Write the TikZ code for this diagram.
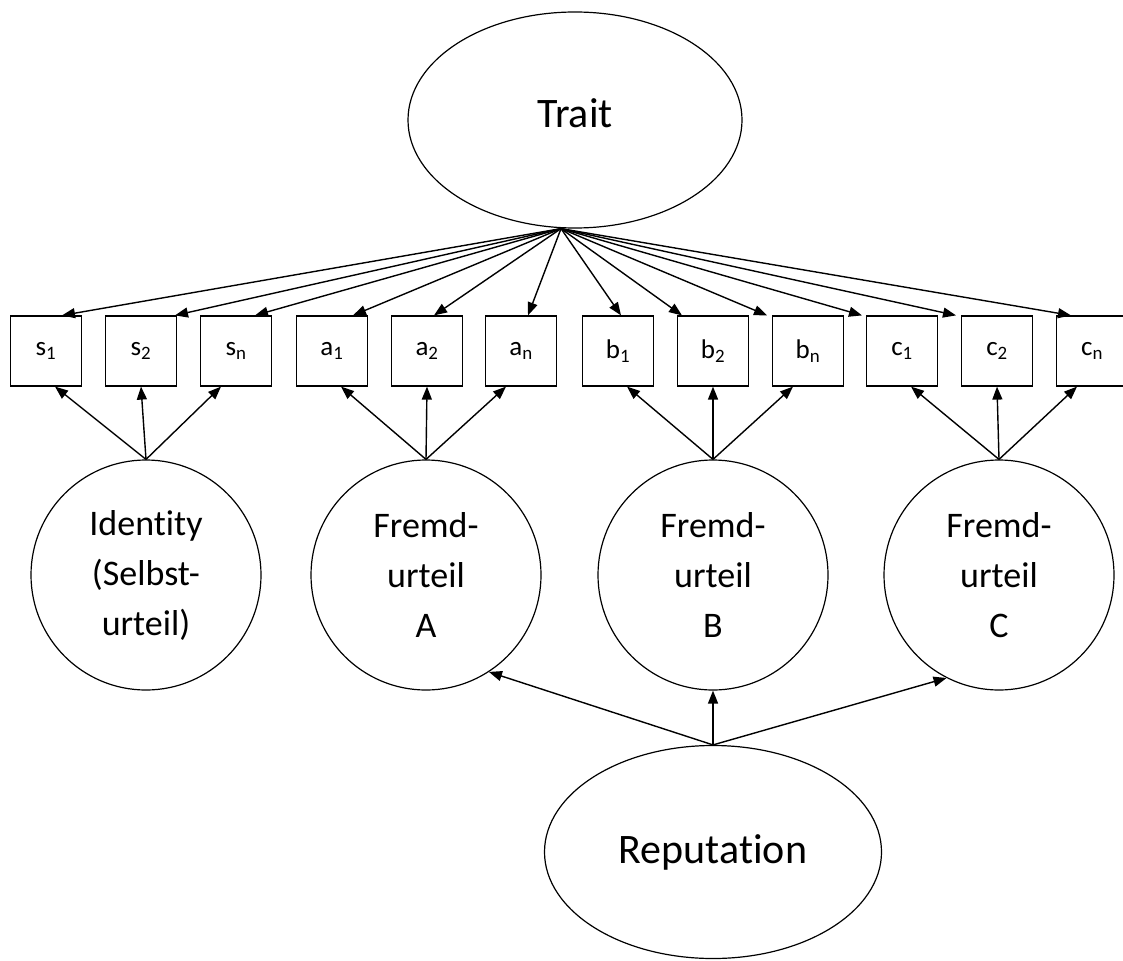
\documentclass[tikz,border=0pt]{standalone}
\usepackage{fontspec}
\setmainfont{Carlito}[Ligatures=NoCommon]
\usetikzlibrary{arrows.meta,calc,shapes.geometric}
\begin{document}
\begin{tikzpicture}[x=1pt,y=-1pt,
  line width=1.2pt,
  arr/.style={line width=1.4pt,-{Triangle[length=13pt,width=10pt]}},
  obs/.style={draw, rectangle, minimum width=71pt, minimum height=70pt, inner sep=0pt, font=\fontsize{27}{30}\selectfont},
  lat/.style={draw, circle, minimum size=230pt, inner sep=0pt, align=center, font=\fontsize{36}{50}\selectfont},
  big/.style={draw, ellipse, inner sep=0pt, font=\fontsize{42}{50}\selectfont}]
\useasboundingbox (0,0) rectangle (1123,960);

% top latent
\node[big, minimum width=334pt, minimum height=216pt,
      label={[font=\fontsize{42}{50}\selectfont, yshift=7pt]center:Trait}] (trait) at (575,120) {};

% observed indicators
\node[obs] (s1) at (46,351)   {s\textsubscript{1}};
\node[obs] (s2) at (141,351)  {s\textsubscript{2}};
\node[obs] (sn) at (236,351)  {s\textsubscript{n}};
\node[obs] (a1) at (332,351)  {a\textsubscript{1}};
\node[obs] (a2) at (427,351)  {a\textsubscript{2}};
\node[obs] (an) at (521,351)  {a\textsubscript{n}};
\node[obs] (b1) at (618,351)  {b\textsubscript{1}};
\node[obs] (b2) at (713,351)  {b\textsubscript{2}};
\node[obs] (bn) at (808,351)  {b\textsubscript{n}};
\node[obs] (c1) at (902,351)  {c\textsubscript{1}};
\node[obs] (c2) at (997,351)  {c\textsubscript{2}};
\node[obs] (cn) at (1092,351) {c\textsubscript{n}};

% middle latents
\node[lat] (id) at (146,575) {Identity\\(Selbst-\\urteil)};
\node[lat] (fa) at (426,575) {Fremd-\\urteil\\A};
\node[lat] (fb) at (713,575) {Fremd-\\urteil\\B};
\node[lat] (fc) at (999,575) {Fremd-\\urteil\\C};

% bottom latent
\node[big, minimum width=337pt, minimum height=213pt] (rep) at (713,852) {Reputation};

% trait loadings
\coordinate (src) at ($(trait.south)+(-14,0)$);
\foreach \n/\d in {s1/16, s2/34, sn/19, a1/21, a2/7, an/7, b1/3, b2/-31, bn/-41, c1/-40, c2/-41, cn/-21}
  \draw[arr] (src) -- ($(\n.north)+(\d,0)$);

% method loadings
\foreach \c/\l/\m/\r in {id/s1/s2/sn, fa/a1/a2/an, fb/b1/b2/bn, fc/c1/c2/cn} {
  \draw[arr] (\c.north) -- ($(\l.south)+(9,0)$);
  \draw[arr] (\c.north) -- (\m.south);
  \draw[arr] (\c.north) -- ($(\r.south)+(-15,0)$);
}

% reputation
\draw[arr] (rep.north) -- (fa.-57);
\draw[arr] (rep.north) -- (fb.south);
\draw[arr] (rep.north) -- (fc.-117);
\end{tikzpicture}
\end{document}
